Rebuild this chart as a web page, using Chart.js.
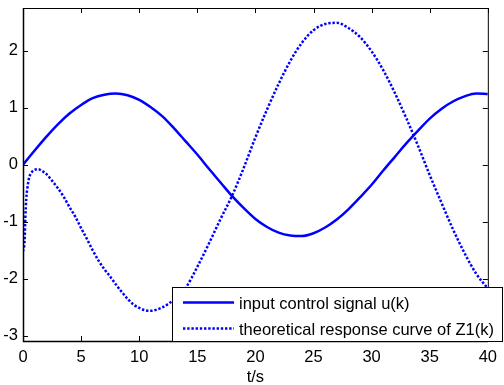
<!DOCTYPE html>
<html lang="en">
<head>
    <meta charset="UTF-8">
    <title>u(k) and Z1(k)</title>
    <script src="https://cdn.jsdelivr.net/npm/chart.js"></script>
    <style>
        body {
            margin: 0;
            background: #fff;
        }
        canvas {
            display: block;
        }
    </style>
</head>
<body>
    <canvas id="myChart" width="504" height="385"></canvas>

    <script>
        // values
        const uTimes = [0, 1, 2, 3, 4, 5, 6, 7, 8, 9, 10, 11, 12, 13, 14, 15, 16, 17, 18, 19, 20,
            21, 22, 23, 24, 25, 26, 27, 28, 29, 30, 31, 32, 33, 34, 35, 36, 37, 38, 39, 40];
        const uValues = [0, 0.25, 0.49, 0.71, 0.90, 1.05, 1.17, 1.23, 1.25, 1.22, 1.14, 1.01, 0.85, 0.64, 0.41, 0.18,
            -0.07, -0.31, -0.55, -0.76, -0.95, -1.09, -1.19, -1.24, -1.25, -1.20, -1.10, -0.96, -0.78, -0.57, -0.35,
            -0.10, 0.14, 0.38, 0.60, 0.81, 0.98, 1.11, 1.20, 1.25, 1.24];

        const zTimes = [0, 0.14, 0.2, 0.28, 0.37, 0.5, 0.65, 0.9, 1.3, 1.65, 2, 2.5, 3, 3.5, 4, 4.5, 5, 5.5, 6, 6.5,
            7, 7.5, 8, 8.5, 9, 9.5, 10, 10.5, 11, 11.5, 12, 12.5, 13, 13.5, 14, 15, 16, 17, 18, 19, 20,
            21, 22, 23, 24, 25, 26, 27, 28, 29, 30, 31, 32, 33, 34, 35, 36, 37, 38, 39, 40];
        const zValues = [-1.52, -1.32, -0.94, -0.60, -0.42, -0.25, -0.16, -0.10, -0.077, -0.11, -0.16, -0.28, -0.41,
            -0.56, -0.74, -0.91, -1.11, -1.30, -1.50, -1.68, -1.83, -1.96, -2.10, -2.23, -2.35, -2.45, -2.51, -2.55,
            -2.56, -2.54, -2.50, -2.44, -2.36, -2.27, -2.16, -1.79, -1.38, -0.95, -0.54, -0.05, 0.48,
            0.97, 1.42, 1.82, 2.14, 2.36, 2.47, 2.49, 2.40, 2.24, 1.99, 1.66, 1.26, 0.81, 0.33, -0.18, -0.66,
            -1.13, -1.55, -1.91, -2.17];

        const seriesLabels = ['input control signal u(k)', 'theoretical response curve of Z1(k)'];
        const xTicks = [0, 5, 10, 15, 20, 25, 30, 35, 40];
        const yTicks = [-3, -2, -1, 0, 1, 2];
        const xTitle = 't/s';

        const FONT = '"Liberation Sans", Arial, sans-serif';
        const BLUE = '#0000ff';

        function toPoints(xs, ys) {
            return xs.map((x, i) => ({ x: x, y: ys[i] }));
        }

        // matlab style box with inward ticks on all four sides
        const boxPlugin = {
            id: 'boxPlugin',
            afterDatasetsDraw(chart) {
                const { ctx, chartArea: a, scales } = chart;
                ctx.save();
                ctx.strokeStyle = '#000';
                ctx.lineWidth = 1;
                ctx.beginPath();
                xTicks.forEach(v => {
                    const px = Math.round(scales.x.getPixelForValue(v)) + 0.5;
                    ctx.moveTo(px, a.bottom); ctx.lineTo(px, a.bottom - 5);
                    ctx.moveTo(px, a.top); ctx.lineTo(px, a.top + 5);
                });
                yTicks.forEach(v => {
                    const py = Math.round(scales.y.getPixelForValue(v)) + 0.5;
                    ctx.moveTo(a.left, py); ctx.lineTo(a.left + 5, py);
                    ctx.moveTo(a.right, py); ctx.lineTo(a.right - 5, py);
                });
                ctx.stroke();
                ctx.strokeRect(a.left + 0.5, a.top + 0.5, a.right - a.left, a.bottom - a.top);
                ctx.lineWidth = 1.5;
                ctx.beginPath();
                ctx.moveTo(a.left + 0.5, a.top);
                ctx.lineTo(a.left + 0.5, a.bottom + 0.5);
                ctx.lineTo(a.right, a.bottom + 0.5);
                ctx.stroke();
                ctx.restore();
            }
        };

        // legend box in the lower right corner
        const legendPlugin = {
            id: 'legendBox',
            afterDraw(chart) {
                const { ctx } = chart;
                const x0 = 172, y0 = 287, w = 331, h = 54;
                ctx.save();
                ctx.fillStyle = '#fff';
                ctx.fillRect(x0, y0, w, h);
                ctx.strokeStyle = '#000';
                ctx.lineWidth = 1;
                ctx.strokeRect(x0 + 0.5, y0 + 0.5, w - 1, h);
                chart.data.datasets.forEach((ds, i) => {
                    const ly = y0 + 15.5 + i * 26;
                    ctx.strokeStyle = ds.borderColor;
                    ctx.lineWidth = ds.borderWidth;
                    ctx.setLineDash(ds.borderDash || []);
                    ctx.beginPath();
                    ctx.moveTo(183, ly);
                    ctx.lineTo(234, ly);
                    ctx.stroke();
                    ctx.setLineDash([]);
                    ctx.fillStyle = '#000';
                    ctx.font = '16.5px ' + FONT;
                    ctx.textBaseline = 'alphabetic';
                    ctx.fillText(ds.label, 239, ly + 6);
                });
                ctx.restore();
            }
        };

        const ctx = document.getElementById('myChart').getContext('2d');
        const myChart = new Chart(ctx, {
            type: 'line',
            data: {
                datasets: [{
                    label: seriesLabels[0],
                    data: toPoints(uTimes, uValues),
                    borderColor: BLUE,
                    borderWidth: 2.5,
                    pointRadius: 0,
                    cubicInterpolationMode: 'monotone',
                    fill: false
                }, {
                    label: seriesLabels[1],
                    data: toPoints(zTimes, zValues),
                    borderColor: BLUE,
                    borderWidth: 2.5,
                    borderDash: [2.4, 1.8],
                    borderCapStyle: 'butt',
                    pointRadius: 0,
                    cubicInterpolationMode: 'monotone',
                    fill: false
                }]
            },
            options: {
                responsive: false,
                animation: false,
                devicePixelRatio: 1,
                layout: { padding: { top: 8, right: 8, left: 0, bottom: 0 } },
                plugins: {
                    legend: { display: false },
                    tooltip: { enabled: false }
                },
                scales: {
                    x: {
                        type: 'linear',
                        min: 0,
                        max: 40,
                        afterBuildTicks: s => { s.ticks = xTicks.map(v => ({ value: v })); },
                        afterFit: s => { s.height = 44; },
                        grid: { display: false, drawTicks: false },
                        border: { display: false },
                        ticks: {
                            color: '#000',
                            padding: 7,
                            maxRotation: 0,
                            font: { family: FONT, size: 16.5 }
                        },
                        title: {
                            display: true,
                            text: xTitle,
                            color: '#000',
                            padding: { top: 0, bottom: -2 },
                            font: { family: FONT, size: 16.5 }
                        }
                    },
                    y: {
                        type: 'linear',
                        min: -3.09,
                        max: 2.75,
                        afterBuildTicks: s => { s.ticks = yTicks.map(v => ({ value: v })); },
                        afterFit: s => {
                            s.width = 23;
                            s.paddingTop = 0;
                            s.paddingBottom = 0;
                        },
                        grid: { display: false, drawTicks: false },
                        border: { display: false },
                        ticks: {
                            color: '#000',
                            padding: 5,
                            font: { family: FONT, size: 16.5 }
                        }
                    }
                }
            },
            plugins: [boxPlugin, legendPlugin]
        });
    </script>
</body>
</html>
